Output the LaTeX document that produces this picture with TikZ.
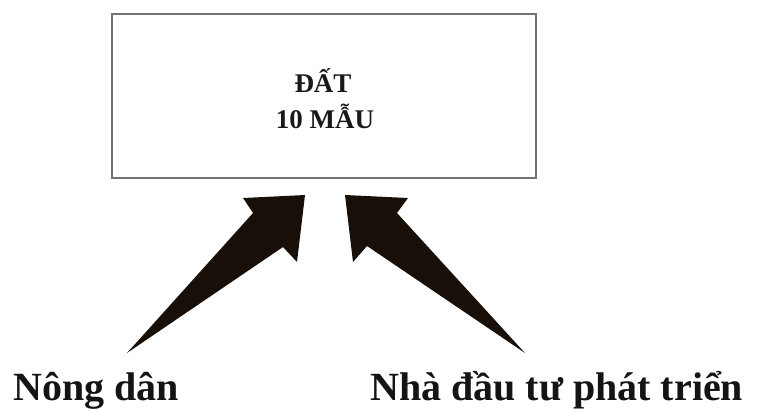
\documentclass[tikz,border=0pt]{standalone}
\usepackage{fontspec}
\setmainfont{Liberation Serif}
\begin{document}
\begin{tikzpicture}[x=1pt,y=-1pt,
  boxstyle/.style={draw=black!55,line width=1.8pt},
  arrowfill/.style={fill=black!88!brown,draw=none},
  boxtext/.style={inner sep=0pt,anchor=base,font=\bfseries\fontsize{27}{30}\selectfont,text=black!90},
  labeltext/.style={inner sep=0pt,anchor=base west,font=\bfseries\fontsize{40}{44}\selectfont,text=black!92}]
\useasboundingbox (0,0) rectangle (757,410);
\draw[boxstyle] (112,14) rectangle (536,178);
\node[boxtext] (t1) at (323,92) {ĐẤT};
\node[boxtext] (t2) at (325,128) {10 MẪU};
% left arrow
\coordinate (ltail) at (127,353);
\coordinate (ltip) at (305,195);
\fill[arrowfill] (ltail) -- (253,213) -- (243,198) -- (ltip) -- (297,262) -- (283,247) -- cycle;
% right arrow
\coordinate (rtail) at (525,353);
\coordinate (rtip) at (345,195);
\fill[arrowfill] (rtail) -- (397,213) -- (408,198) -- (rtip) -- (353,262) -- (367,246) -- cycle;
\node[labeltext] (l1) at (13,400) {Nông dân};
\node[labeltext] (l2) at (370,400) {Nhà đầu tư phát triển};
\end{tikzpicture}
\end{document}
